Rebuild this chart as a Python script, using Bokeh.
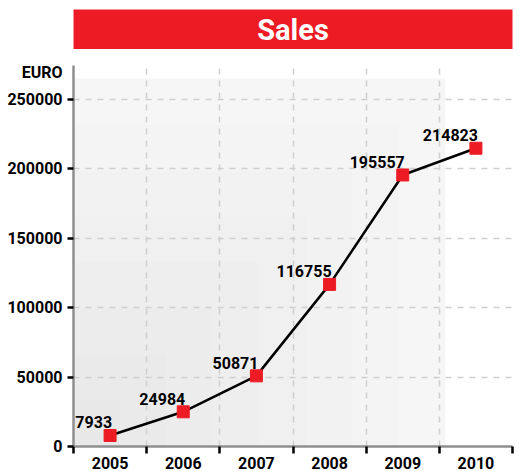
from bokeh.plotting import figure
from bokeh.layouts import column
from bokeh.models import Range1d, FixedTicker, Label, BoxAnnotation, ColumnDataSource, BasicTickFormatter
from bokeh.core.properties import value
from bokeh.embed import file_html
from bokeh.resources import INLINE

# ---- data ----
years = [2005, 2006, 2007, 2008, 2009, 2010]
sales = [7933, 24984, 50871, 116755, 195557, 214823]
y_ticks = [0, 50000, 100000, 150000, 200000, 250000]
title_text = "Sales"
unit_text = "EURO"

RED = "#ed1c24"
FONT = "Roboto"

# ---- title bar ----
t = figure(width=518, height=49, x_range=Range1d(0, 1), y_range=Range1d(0, 1),
           output_backend="svg", toolbar_location=None,
           min_border_left=73, min_border_right=5, min_border_top=9, min_border_bottom=0)
t.axis.visible = False
t.grid.visible = False
t.outline_line_color = None
t.background_fill_color = RED
t.border_fill_color = "white"
t.add_layout(Label(x=0.5, y=0.5, text=title_text, text_align="center", text_baseline="middle",
                   text_color="white", text_font=FONT,
                   text_font_style="bold", text_font_size="29px"))

# ---- main chart ----
x_start, x_end = 2004.5, 2010.5
y_top = 274400
p = figure(width=518, height=422, x_range=Range1d(x_start, x_end), y_range=Range1d(0, y_top),
           output_backend="svg", toolbar_location=None,
           min_border_left=73, min_border_right=6, min_border_top=16, min_border_bottom=0)
p.outline_line_color = None
p.background_fill_color = "white"
p.border_fill_color = "white"

# background gradient (stepped)
gx_right = 2009.58
gy_top = 265100
p.add_layout(BoxAnnotation(right=gx_right, top=gy_top, fill_color="#f8f8f8", fill_alpha=1.0,
                           line_color=None, level="image"))
n = 8
for k in range(n):
    p.add_layout(BoxAnnotation(right=gx_right - k * (gx_right - x_start) / n,
                               top=gy_top - k * gy_top / n,
                               fill_color="black", fill_alpha=0.006, line_color=None, level="image"))

# axes
boundaries = [y - 0.5 for y in years] + [years[-1] + 0.5]
p.xaxis.ticker = FixedTicker(ticks=years, minor_ticks=boundaries)

# unit caption "EURO" shown as an extra (tick-less) label at the top of the value axis
euro_pos = 269000
p.yaxis.ticker = FixedTicker(ticks=y_ticks + [euro_pos], minor_ticks=y_ticks)
p.yaxis.formatter = BasicTickFormatter(use_scientific=False)
p.yaxis.major_label_overrides = {euro_pos: unit_text}

for ax in (p.xaxis[0], p.yaxis[0]):
    ax.axis_line_color = "#8f8f8f"
    ax.axis_line_width = 2.5
    ax.major_label_text_font = FONT
    ax.major_label_text_font_style = "bold"
    ax.major_label_text_font_size = "16px"
    ax.major_label_text_color = "black"

p.xaxis.major_tick_line_color = None
p.xaxis.major_tick_out = 0
p.xaxis.major_tick_in = 0
p.xaxis.minor_tick_line_color = "black"
p.xaxis.minor_tick_line_width = 2.5
p.xaxis.minor_tick_out = 7
p.xaxis.minor_tick_in = 0
p.xaxis.major_label_standoff = 3

p.yaxis.major_tick_line_color = None
p.yaxis.major_tick_out = 6
p.yaxis.major_tick_in = 0
p.yaxis.minor_tick_line_color = "black"
p.yaxis.minor_tick_line_width = 2.5
p.yaxis.minor_tick_out = 6
p.yaxis.minor_tick_in = 0
p.yaxis.major_label_standoff = 5

# grid
p.xgrid.grid_line_color = None
p.xgrid.minor_grid_line_color = "#cfcfcf"
p.xgrid.minor_grid_line_dash = "6 6"
p.xgrid.minor_grid_line_width = 1.5
p.ygrid.ticker = FixedTicker(ticks=y_ticks)
p.ygrid.grid_line_color = "#cfcfcf"
p.ygrid.grid_line_dash = "6 6"
p.ygrid.grid_line_width = 1.5

src = ColumnDataSource(dict(x=years, y=sales, label=[str(v) for v in sales]))
p.line("x", "y", source=src, line_color="black", line_width=2.5)
p.scatter("x", "y", source=src, marker="square", size=12, fill_color=RED, line_color=RED)
p.text("x", "y", text="label", source=src, text_align="right", text_baseline="alphabetic",
       x_offset=2, y_offset=-13, text_font=value(FONT), text_font_style="bold",
       text_font_size="16px", text_color="black")

layout = column(t, p, spacing=0)
open("out.html", "w").write(file_html(layout, INLINE))
